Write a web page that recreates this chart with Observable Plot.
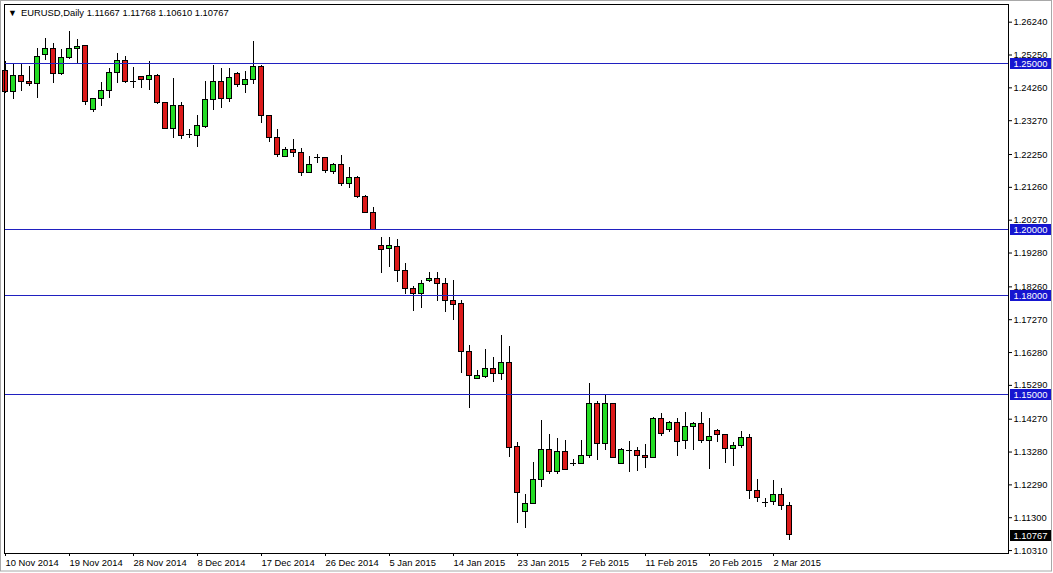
<!DOCTYPE html>
<html><head><meta charset="utf-8">
<script src="https://cdn.jsdelivr.net/npm/d3@7"></script>
<script src="https://cdn.jsdelivr.net/npm/@observablehq/plot@0.6"></script>
<style>html,body{margin:0;padding:0;background:#fff;} #chart svg{display:block;}</style>
</head><body><div id="chart"></div>
<script>
const symbolLabel = "EURUSD,Daily";
const lastBarText = ["1.11667", "1.11768", "1.10610", "1.10767"];

const open = [1.2476,1.2415,1.2462,1.2445,1.2438,1.2526,1.2544,1.2468,1.2517,1.2544,
1.2551,1.2360,1.2392,1.2416,1.2470,1.2508,1.2445,1.2459,1.2450,1.2462,
1.2381,1.2303,1.2372,1.2284,1.2282,1.2307,1.2390,1.2445,1.2392,1.2468,
1.2435,1.2450,1.2490,1.2342,1.2276,1.2217,1.2239,1.2230,1.2170,1.2215,
1.2215,1.2173,1.2194,1.2137,1.2155,1.2096,1.2049,1.1950,1.1939,1.1946,
1.1875,1.1820,1.1805,1.1843,1.1850,1.1835,1.1783,1.1773,1.1631,1.1549,
1.1554,1.1577,1.1564,1.1597,1.1344,1.1147,1.1172,1.1244,1.1335,1.1267,
1.1327,1.1292,1.1293,1.1317,1.1473,1.1353,1.1473,1.1293,1.1334,1.1332,
1.1316,1.1310,1.1428,1.1393,1.1416,1.1361,1.1403,1.1413,1.1361,1.1390,
1.1380,1.1337,1.1346,1.1371,1.1212,1.1176,1.1177,1.1199,1.11667];

const high = [1.2505,1.2499,1.2497,1.2490,1.2544,1.2574,1.2561,1.2542,1.2596,1.2571,
1.2554,1.2395,1.2443,1.2483,1.2529,1.2521,1.2486,1.2460,1.2506,1.2466,
1.2382,1.2453,1.2381,1.2300,1.2343,1.2445,1.2493,1.2485,1.2483,1.2473,
1.2475,1.2566,1.2493,1.2343,1.2300,1.2247,1.2269,1.2242,1.2219,1.2225,
1.2216,1.2197,1.2221,1.2185,1.2159,1.2102,1.2066,1.1974,1.1974,1.1968,
1.1896,1.1827,1.1845,1.1868,1.1868,1.1850,1.1845,1.1785,1.1649,1.1574,
1.1637,1.1614,1.1679,1.1646,1.1358,1.1200,1.1296,1.1423,1.1381,1.1368,
1.1363,1.1304,1.1363,1.1536,1.1481,1.1502,1.1475,1.1338,1.1360,1.1343,
1.1351,1.1433,1.1443,1.1421,1.1428,1.1448,1.1418,1.1448,1.1428,1.1396,
1.1381,1.1356,1.1390,1.1380,1.1245,1.1187,1.1242,1.1219,1.11768];

const low = [1.2410,1.2390,1.2416,1.2430,1.2395,1.2509,1.2438,1.2463,1.2511,1.2500,
1.2373,1.2353,1.2370,1.2395,1.2440,1.2440,1.2423,1.2423,1.2418,1.2375,
1.2299,1.2272,1.2270,1.2274,1.2245,1.2304,1.2358,1.2365,1.2381,1.2428,
1.2410,1.2435,1.2318,1.2262,1.2217,1.2215,1.2215,1.2160,1.2167,1.2199,
1.2167,1.2164,1.2130,1.2122,1.2093,1.2046,1.1997,1.1865,1.1885,1.1838,
1.1802,1.1753,1.1760,1.1840,1.1783,1.1750,1.1725,1.1564,1.1458,1.1547,
1.1549,1.1539,1.1544,1.1312,1.1113,1.1097,1.1170,1.1222,1.1260,1.1260,
1.1272,1.1283,1.1289,1.1310,1.1303,1.1333,1.1308,1.1290,1.1267,1.1270,
1.1279,1.1308,1.1376,1.1388,1.1314,1.1335,1.1333,1.1353,1.1275,1.1358,
1.1294,1.1285,1.1338,1.1184,1.1175,1.1160,1.1167,1.1152,1.10610];

const close = [1.2413,1.2462,1.2445,1.2438,1.2519,1.2544,1.2468,1.2517,1.2544,1.2549,
1.2383,1.2393,1.2418,1.2472,1.2508,1.2443,1.2445,1.2450,1.2462,1.2380,
1.2301,1.2372,1.2280,1.2284,1.2310,1.2390,1.2445,1.2392,1.2456,1.2435,
1.2450,1.2490,1.2342,1.2276,1.2224,1.2239,1.2230,1.2169,1.2192,1.2215,
1.2175,1.2194,1.2137,1.2155,1.2096,1.2048,1.1998,1.1938,1.1948,1.1875,
1.1819,1.1805,1.1835,1.1850,1.1835,1.1783,1.1772,1.1629,1.1558,1.1556,
1.1577,1.1564,1.1597,1.1341,1.1204,1.1172,1.1244,1.1335,1.1267,1.1327,
1.1275,1.1292,1.1317,1.1473,1.1353,1.1473,1.1311,1.1335,1.1334,1.1316,
1.1310,1.1428,1.1383,1.1416,1.1358,1.1403,1.1413,1.1361,1.1373,1.1380,
1.1337,1.1347,1.1371,1.1210,1.1189,1.1176,1.1199,1.1165,1.10767];

const xTickIndex = [0,8,16,24,32,40,48,56,64,72,80,88,96];
const xTickLabels = ["10 Nov 2014","19 Nov 2014","28 Nov 2014","8 Dec 2014","17 Dec 2014","26 Dec 2014",
  "5 Jan 2015","14 Jan 2015","23 Jan 2015","2 Feb 2015","11 Feb 2015","20 Feb 2015","2 Mar 2015"];
const yTicks = [1.2624,1.2525,1.2426,1.2327,1.2225,1.2126,1.2027,1.1928,1.1826,1.1727,1.1628,1.1529,1.1427,1.1328,1.1229,1.1130,1.1031];
const levels = [1.25, 1.20, 1.18, 1.15];
const lastClose = [1.10767];

const UP = "#24dc24", DOWN = "#dc1a1a", LEVEL = "#2020c0", TAG = "#1616d0";
const FONT = "'Liberation Sans', Arial, sans-serif";

const candles = open.map((o, i) => ({i, o, h: high[i], l: low[i], c: close[i]}));
const bodies = candles.filter(d => d.o !== d.c);
const dojis = candles.filter(d => d.o === d.c);
const labelByIndex = new Map(xTickIndex.map((t, k) => [t, xTickLabels[k]]));

function windowBorder(index, scales, values, dims) {
  const g = d3.create("svg:g");
  g.append("rect").attr("x", 0.5).attr("y", 0.5)
    .attr("width", dims.width - 2).attr("height", dims.height - 2.5)
    .attr("fill", "none").attr("stroke", "#a8a8a8");
  return g.node();
}

// horizontal price levels, positioned through the y scale and snapped to whole pixels
function levelLines(vals, stroke) {
  return (index, scales, values, dims) => {
    const g = d3.create("svg:g");
    for (const v of vals) {
      const y = Math.round(scales.y(v)) + 0.5;
      g.append("line").attr("x1", dims.marginLeft).attr("x2", dims.width - dims.marginRight)
        .attr("y1", y).attr("y2", y).attr("stroke", stroke).attr("stroke-width", 1);
    }
    return g.node();
  };
}

function priceTags(vals, fill) {
  return (index, scales, values, dims) => {
    const g = d3.create("svg:g");
    const x0 = dims.width - dims.marginRight + 2;
    for (const v of vals) {
      const y = Math.round(scales.y(v)) + 0.5;
      g.append("rect").attr("x", x0).attr("y", y - 5.5)
        .attr("width", dims.marginRight - 4).attr("height", 11).attr("fill", fill);
      g.append("text").attr("x", x0 + 3.5).attr("y", y).attr("dy", "0.36em")
        .attr("text-anchor", "start")
        .attr("fill", "white").attr("font-size", 9.4).attr("font-family", FONT)
        .text(v.toFixed(5));
    }
    return g.node();
  };
}

const chart = Plot.plot({
  width: 1053,
  height: 573,
  marginTop: 4,
  marginLeft: 4,
  marginRight: 45,
  marginBottom: 20,
  style: {fontFamily: FONT, fontSize: "9.4px", background: "white", color: "black", overflow: "visible"},
  x: {domain: [-0.125, 125.375]},
  y: {domain: [1.10221, 1.26773]},
  marks: [
    windowBorder,
    Plot.ruleX(candles, {x: "i", y1: "l", y2: "h", stroke: "black", strokeWidth: 1, shapeRendering: "crispEdges"}),
    Plot.rect(bodies, {
      x1: d => d.i - 0.27, x2: d => d.i + 0.27, y1: "o", y2: "c",
      fill: d => d.c > d.o ? UP : DOWN, stroke: "black", strokeWidth: 1, shapeRendering: "crispEdges"
    }),
    Plot.ruleY(dojis, {y: "o", x1: d => d.i - 0.32, x2: d => d.i + 0.32, stroke: "black", strokeWidth: 1, shapeRendering: "crispEdges"}),
    levelLines(levels, LEVEL),
    Plot.frame({stroke: "black", shapeRendering: "crispEdges"}),
    Plot.axisY({anchor: "right", ticks: yTicks, tickFormat: d => d.toFixed(5), tickSize: 3, tickPadding: 2, label: null, fontSize: 9.4}),
    Plot.axisX({anchor: "bottom", ticks: xTickIndex, tickFormat: d => labelByIndex.get(d), tickSize: 3, tickPadding: 3, textAnchor: "start", label: null, fontSize: 9.4}),
    priceTags(levels, TAG),
    priceTags(lastClose, "black"),
    Plot.text(["\u25BC"], {text: d => d, frameAnchor: "top-left", dx: 3.5, dy: 5.5, fontSize: 9, textAnchor: "start", lineAnchor: "top", fill: "black"}),
    Plot.text([symbolLabel + " " + lastBarText.join(" ")], {text: d => d, frameAnchor: "top-left", dx: 16.5, dy: 4.5, fontSize: 9.4, textAnchor: "start", lineAnchor: "top", fill: "black"})
  ]
});
document.getElementById("chart").append(chart);
</script>
</body></html>
